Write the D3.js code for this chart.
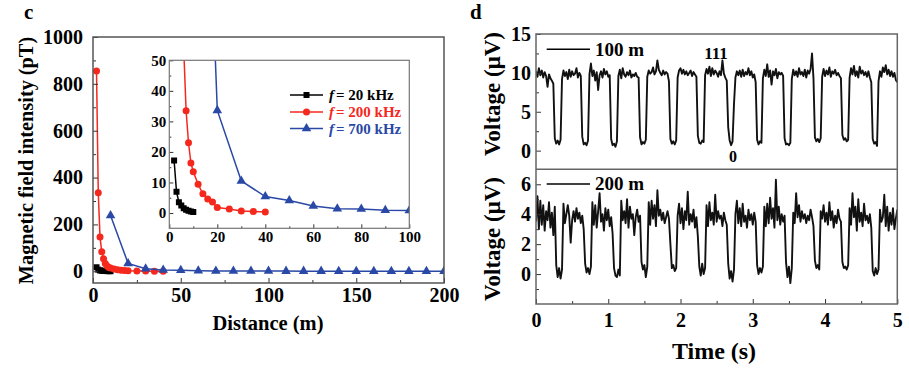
<!DOCTYPE html>
<html>
<head>
<meta charset="utf-8">
<script src="https://cdn.jsdelivr.net/npm/d3@7"></script>
<style>
  html, body { margin: 0; padding: 0; background: #fff; }
  svg text { font-family: "Liberation Serif", "Times New Roman", serif; font-weight: bold; }
</style>
</head>
<body>
<script>
// ---------------- Panel c data ----------------
const distance20 = [2, 3, 4, 5, 6, 7, 8, 9, 10];
const field20 = [17.2, 7, 3.5, 2.5, 1.6, 1.1, 0.75, 0.5, 0.3];
const distance200 = [2, 3, 4, 5, 6, 7, 8, 9, 10, 12, 14, 16, 18, 20, 25, 30, 35, 40];
const field200 = [855, 335, 146, 83, 54, 33.5, 23, 16.4, 13.5, 9.4, 6.3, 4.6, 3.6, 1.8, 1.3, 0.7, 0.5, 0.3];
const distance700 = [10, 20, 30, 40, 50, 60, 70, 80, 90, 100, 110, 120, 130, 140, 150, 160, 170, 180, 190, 200];
const field700 = [238, 33.6, 10.5, 5.4, 4.1, 2.3, 1.4, 1.3, 0.9, 0.8, 0.7, 0.6, 0.6, 0.5, 0.5, 0.5, 0.4, 0.4, 0.4, 0.4];
const seriesNames = ["20 kHz", "200 kHz", "700 kHz"];
const seriesColors = ["#000000", "#f5281e", "#2a48a6"];
const seriesShapes = ["square", "circle", "triangle"];
const mainXTicks = [0, 50, 100, 150, 200];
const mainXMinor = [25, 75, 125, 175];
const mainYTicks = [0, 200, 400, 600, 800, 1000];
const mainYMinor = [100, 300, 500, 700, 900];
const insetXTicks = [0, 20, 40, 60, 80, 100];
const insetXMinor = [10, 30, 50, 70, 90];
const insetYTicks = [0, 10, 20, 30, 40, 50];
const insetYMinor = [5, 15, 25, 35, 45];

// ---------------- Panel d data (sampled every 0.02 s) ----------------
const sampleStep = 0.02;
const voltage100m = [
10.2,9.5,10.6,9.7,10.3,9.4,10.1,9.6,8.2,9.8,
9.3,9.0,8.6,1.6,0.9,1.3,0.8,1.4,9.2,10.3,
9.6,10.1,9.2,10.4,9.5,10.2,9.7,9.9,10.6,9.4,
10.0,9.6,1.8,0.8,1.0,0.7,1.3,9.8,11.2,9.6,
10.3,9.0,10.1,7.8,9.7,10.2,9.4,10.5,9.8,10.2,
9.5,9.7,1.5,0.7,0.9,0.5,1.2,9.6,10.4,9.3,
10.6,9.8,9.5,10.1,9.7,10.3,9.4,9.8,9.6,10.0,
9.5,9.4,1.7,0.8,1.1,0.9,1.4,9.5,10.3,9.9,
10.1,10.7,9.8,10.2,11.6,10.4,10.0,9.7,10.3,9.8,
10.1,9.9,8.9,1.5,0.9,1.2,0.8,1.3,9.4,10.3,
10.6,9.9,10.4,9.8,10.2,9.7,10.0,10.3,9.6,10.1,
9.8,9.5,1.9,1.0,0.9,1.3,1.1,9.7,10.5,9.9,
10.8,9.6,10.6,9.8,10.3,10.0,9.5,10.2,9.7,11.6,
9.9,9.4,9.0,3.0,1.3,0.7,1.2,6.0,9.4,10.2,
9.7,10.3,9.5,10.4,9.6,10.1,9.8,10.6,9.7,10.2,
9.4,9.8,8.8,1.4,0.8,1.2,1.0,9.3,10.4,9.6,
11.1,9.5,10.3,8.5,10.2,9.7,10.5,9.3,10.1,9.8,
10.0,9.6,1.6,0.8,0.9,0.7,1.0,9.2,10.4,9.7,
10.2,9.5,10.6,9.8,10.1,9.6,10.4,9.4,10.3,9.9,
10.5,12.5,9.3,1.7,1.2,1.5,1.1,1.6,9.5,10.5,
9.6,10.3,9.8,10.7,9.5,10.2,9.9,10.4,9.7,10.0,
9.6,9.3,2.0,1.4,1.6,1.2,1.4,9.4,10.6,9.8,
10.9,9.6,10.2,9.4,10.8,9.9,10.3,9.7,10.1,9.5,
10.2,9.4,8.8,1.5,0.9,1.1,0.6,8.9,10.2,9.5,
10.7,10.1,11.0,9.8,10.4,9.6,10.2,9.5,10.0,9.1,
8.8];
const voltage200m = [
3.5,5.2,3.0,4.9,3.3,4.6,2.9,4.2,3.6,4.8,
3.1,4.1,2.6,4.5,0.6,-0.2,0.4,-0.3,0.3,4.7,
3.4,4.0,4.6,3.9,2.1,3.6,4.2,3.5,4.4,3.7,
4.1,3.4,3.9,3.0,0.7,0.1,0.4,0.0,0.5,4.8,
3.3,4.6,3.1,4.2,5.4,3.5,4.0,2.9,4.4,3.6,
4.3,3.2,3.8,2.7,0.4,-0.1,-0.2,0.3,-0.1,4.9,
3.6,4.2,3.4,5.0,3.1,4.5,3.7,4.0,2.6,3.8,
4.3,3.5,3.9,0.8,0.3,0.6,-0.2,0.5,4.8,3.3,
4.9,3.7,4.6,3.2,5.6,3.9,4.3,3.6,4.1,3.4,
3.8,4.2,3.7,2.0,0.4,0.6,0.2,0.4,3.9,4.7,
3.4,4.4,3.0,4.2,3.6,5.5,3.3,4.0,3.5,4.3,
3.1,3.8,2.5,0.5,-0.1,0.7,0.0,0.4,4.6,3.2,
4.8,3.6,4.1,3.3,5.3,3.5,4.2,3.7,3.9,3.2,
4.1,3.6,3.3,0.7,-0.3,0.2,-0.5,0.3,4.0,4.9,
3.4,4.4,3.2,4.7,3.5,3.9,3.1,4.3,3.6,4.0,
3.3,4.1,3.5,0.6,0.0,0.4,0.1,0.5,4.5,3.2,
4.7,3.4,5.1,3.7,4.4,3.1,6.3,3.6,4.5,3.3,
4.0,3.5,3.9,0.8,-0.2,0.5,-0.6,0.4,4.1,3.4,
5.4,3.8,4.6,3.5,4.2,3.7,4.0,3.4,3.9,3.6,
4.3,3.8,3.2,0.9,0.4,0.6,0.3,4.2,3.7,4.6,
3.5,4.1,3.3,4.8,3.6,4.2,3.1,3.9,3.4,4.3,
3.7,3.5,0.8,0.4,0.5,0.3,0.6,4.4,3.3,5.4,
3.8,4.5,2.9,5.0,3.5,4.1,3.2,4.7,3.6,3.9,
3.4,4.0,3.1,0.2,-0.1,0.4,0.0,0.3,4.3,3.5,
3.8,5.3,3.2,4.5,2.9,4.1,3.3,4.4,3.0,3.7,
4.3];
const timeTicks = [0, 1, 2, 3, 4, 5];
const timeMinor = [0.5, 1.5, 2.5, 3.5, 4.5];
const topYTicks = [0, 5, 10, 15];
const topYMinor = [2.5, 7.5, 12.5];
const botYTicks = [0, 2, 4, 6];
const botYMinor = [-1, 1, 3, 5];

// ---------------- Drawing ----------------
const W = 909, H = 370;
const svg = d3.select("body").append("svg").attr("width", W).attr("height", H);
const defs = svg.append("defs");

function styleAxis(g, fontSize) {
  g.select(".domain").remove();
  g.selectAll(".tick line").attr("stroke", "#333").attr("stroke-width", 1);
  g.selectAll(".tick text").attr("fill", "#000").style("font-size", fontSize + "px")
    .style("font-family", '"Liberation Serif", "Times New Roman", serif').style("font-weight", "bold");
}
function drawAxes(g, xs, ys, o) {
  const [x0, x1] = xs.range(); const [y0, y1] = ys.range();
  g.append("g").attr("transform", `translate(0,${y0})`)
    .call(d3.axisBottom(xs).tickValues(o.xt).tickSize(-o.major).tickPadding(o.xpad).tickFormat(d3.format("d")))
    .call(a => styleAxis(a, o.fs));
  g.append("g").attr("transform", `translate(0,${y0})`)
    .call(d3.axisBottom(xs).tickValues(o.xm).tickSize(-o.minor).tickFormat(""))
    .call(a => styleAxis(a, o.fs));
  g.append("g").attr("transform", `translate(${x0},0)`)
    .call(d3.axisLeft(ys).tickValues(o.yt).tickSize(-o.major).tickPadding(o.ypad).tickFormat(d3.format("d")))
    .call(a => styleAxis(a, o.fs));
  g.append("g").attr("transform", `translate(${x0},0)`)
    .call(d3.axisLeft(ys).tickValues(o.ym).tickSize(-o.minor).tickFormat(""))
    .call(a => styleAxis(a, o.fs));
}
function marker(sel, shape, size) {
  if (shape === "square") return sel.append("path").attr("d", d3.symbol(d3.symbolSquare, size * size)());
  if (shape === "circle") return sel.append("path").attr("d", d3.symbol(d3.symbolCircle, Math.PI * (size / 2) * (size / 2))());
  return sel.append("path").attr("d", d3.symbol(d3.symbolTriangle, size * size * 0.55)());
}

// ----- Panel c main -----
const xMain = d3.scaleLinear().domain([0, 200]).range([93, 444]);
const yMain = d3.scaleLinear().domain([-50, 1000]).range([283, 37]);
const mainG = svg.append("g");
defs.append("clipPath").attr("id", "clipMain").append("rect")
  .attr("x", 93).attr("y", 37).attr("width", 351).attr("height", 246);
const allSeries = [
  { x: distance20, y: field20 },
  { x: distance200, y: field200 },
  { x: distance700, y: field700 }
];
function drawSeries(g, xs, ys, clipId, msize) {
  const pg = g.append("g").attr("clip-path", `url(#${clipId})`);
  allSeries.forEach((s, k) => {
    const pts = s.x.map((d, i) => [d, s.y[i]]);
    pg.append("path").datum(pts)
      .attr("d", d3.line().x(d => xs(d[0])).y(d => ys(d[1])))
      .attr("fill", "none").attr("stroke", seriesColors[k]).attr("stroke-width", 1.5);
    pts.forEach(p => {
      marker(pg.append("g").attr("transform", `translate(${xs(p[0])},${ys(p[1])})`), seriesShapes[k], msize[k])
        .attr("fill", seriesColors[k]);
    });
  });
}
drawSeries(mainG, xMain, yMain, "clipMain", [6, 7, 8.5]);
drawAxes(mainG, xMain, yMain, { xt: mainXTicks, xm: mainXMinor, yt: mainYTicks, ym: mainYMinor, major: 5, minor: 3, xpad: 5, ypad: 10, fs: 20 });
mainG.append("rect").attr("x", 93).attr("y", 37).attr("width", 351).attr("height", 246)
  .attr("fill", "none").attr("stroke", "#555").attr("stroke-width", 1.5);

// ----- Panel c inset -----
const xIn = d3.scaleLinear().domain([0, 100]).range([169.3, 409.3]);
const yIn = d3.scaleLinear().domain([-5, 50]).range([228.3, 60.3]);
const inG = svg.append("g");
inG.append("rect").attr("x", 169.3).attr("y", 60.3).attr("width", 240).attr("height", 168).attr("fill", "#fff");
defs.append("clipPath").attr("id", "clipIn").append("rect")
  .attr("x", 169.3).attr("y", 60.3).attr("width", 240).attr("height", 168);
drawSeries(inG, xIn, yIn, "clipIn", [6, 7, 8.5]);
drawAxes(inG, xIn, yIn, { xt: insetXTicks, xm: insetXMinor, yt: insetYTicks, ym: insetYMinor, major: 4, minor: 2, xpad: 3, ypad: 3, fs: 15 });
inG.append("rect").attr("x", 169.3).attr("y", 60.3).attr("width", 240).attr("height", 168)
  .attr("fill", "none").attr("stroke", "#777").attr("stroke-width", 1.2);

// legend
const legY = [95, 112, 128.5];
seriesNames.forEach((name, k) => {
  const lg = inG.append("g").attr("transform", `translate(0,${legY[k]})`);
  lg.append("line").attr("x1", 290).attr("x2", 323).attr("y1", 0).attr("y2", 0)
    .attr("stroke", seriesColors[k]).attr("stroke-width", 1.5);
  marker(lg.append("g").attr("transform", "translate(306.5,0)"), seriesShapes[k], [6, 7, 8.5][k]).attr("fill", seriesColors[k]);
  const t = lg.append("text").attr("x", 329).attr("y", 5).attr("fill", seriesColors[k]).style("font-size", "15px");
  t.append("tspan").style("font-style", "italic").text("f");
  t.append("tspan").attr("dx", 2).text("= " + name);
});

// panel c titles
svg.append("text").attr("x", 24).attr("y", 19).style("font-size", "21px").text("c");
svg.append("text").attr("transform", "translate(32.5,160.5) rotate(-90)").attr("text-anchor", "middle")
  .style("font-size", "20.3px").text("Magnetic field intensity (pT)");
svg.append("text").attr("x", 268).attr("y", 330).attr("text-anchor", "middle")
  .style("font-size", "20.5px").text("Distance (m)");

// ----- Panel d -----
const xR = d3.scaleLinear().domain([0, 5]).range([536, 897.3]);
const yTop = d3.scaleLinear().domain([-2.4, 15]).range([169.3, 34]);
const yBot = d3.scaleLinear().domain([-2, 7]).range([304, 169.3]);
const dG = svg.append("g");
defs.append("clipPath").attr("id", "clipR").append("rect")
  .attr("x", 536).attr("y", 34).attr("width", 361.3).attr("height", 270);
const traceLine = ys => d3.line().x((d, i) => xR(i * sampleStep)).y(d => ys(d));
dG.append("path").datum(voltage100m).attr("clip-path", "url(#clipR)").attr("d", traceLine(yTop))
  .attr("fill", "none").attr("stroke", "#111").attr("stroke-width", 1.9).attr("stroke-linejoin", "round");
dG.append("path").datum(voltage200m).attr("clip-path", "url(#clipR)").attr("d", traceLine(yBot))
  .attr("fill", "none").attr("stroke", "#111").attr("stroke-width", 1.9).attr("stroke-linejoin", "round");

function rAxes(ys, yt, ym) {
  const [x0] = xR.range();
  dG.append("g").attr("transform", `translate(${x0},0)`)
    .call(d3.axisLeft(ys).tickValues(yt).tickSize(-5).tickPadding(5).tickFormat(d3.format("d")))
    .call(a => styleAxis(a, 20));
  dG.append("g").attr("transform", `translate(${x0},0)`)
    .call(d3.axisLeft(ys).tickValues(ym).tickSize(-3).tickFormat(""))
    .call(a => styleAxis(a, 20));
}
rAxes(yTop, topYTicks, topYMinor);
rAxes(yBot, botYTicks, botYMinor);
dG.append("g").attr("transform", "translate(0,304)")
  .call(d3.axisBottom(xR).tickValues(timeTicks).tickSize(-5).tickPadding(9).tickFormat(d3.format("d")))
  .call(a => styleAxis(a, 20));
dG.append("g").attr("transform", "translate(0,304)")
  .call(d3.axisBottom(xR).tickValues(timeMinor).tickSize(-3).tickFormat(""))
  .call(a => styleAxis(a, 20));
dG.append("rect").attr("x", 536).attr("y", 34).attr("width", 361.3).attr("height", 270)
  .attr("fill", "none").attr("stroke", "#666").attr("stroke-width", 1.5);
dG.append("line").attr("x1", 536).attr("x2", 897.3).attr("y1", 169.3).attr("y2", 169.3)
  .attr("stroke", "#666").attr("stroke-width", 1.5);

// legends and annotations
dG.append("line").attr("x1", 546.7).attr("x2", 590).attr("y1", 49.3).attr("y2", 49.3).attr("stroke", "#000").attr("stroke-width", 1.5);
dG.append("text").attr("x", 595).attr("y", 55.5).style("font-size", "19px").text("100 m");
dG.append("line").attr("x1", 546.7).attr("x2", 590).attr("y1", 184).attr("y2", 184).attr("stroke", "#000").attr("stroke-width", 1.5);
dG.append("text").attr("x", 595).attr("y", 190).style("font-size", "19px").text("200 m");
dG.append("text").attr("x", 716).attr("y", 59).attr("text-anchor", "middle").style("font-size", "17px").text("111");
dG.append("text").attr("x", 733).attr("y", 161.5).attr("text-anchor", "middle").style("font-size", "16px").text("0");

svg.append("text").attr("x", 470).attr("y", 19).style("font-size", "21px").text("d");
svg.append("text").attr("x", 714).attr("y", 359).attr("text-anchor", "middle").style("font-size", "24px").text("Time (s)");
svg.append("text").attr("transform", "translate(500,94) rotate(-90)").attr("text-anchor", "middle")
  .style("font-size", "23px").text("Voltage (μV)");
svg.append("text").attr("transform", "translate(500,239) rotate(-90)").attr("text-anchor", "middle")
  .style("font-size", "23px").text("Voltage (μV)");
</script>
</body>
</html>
